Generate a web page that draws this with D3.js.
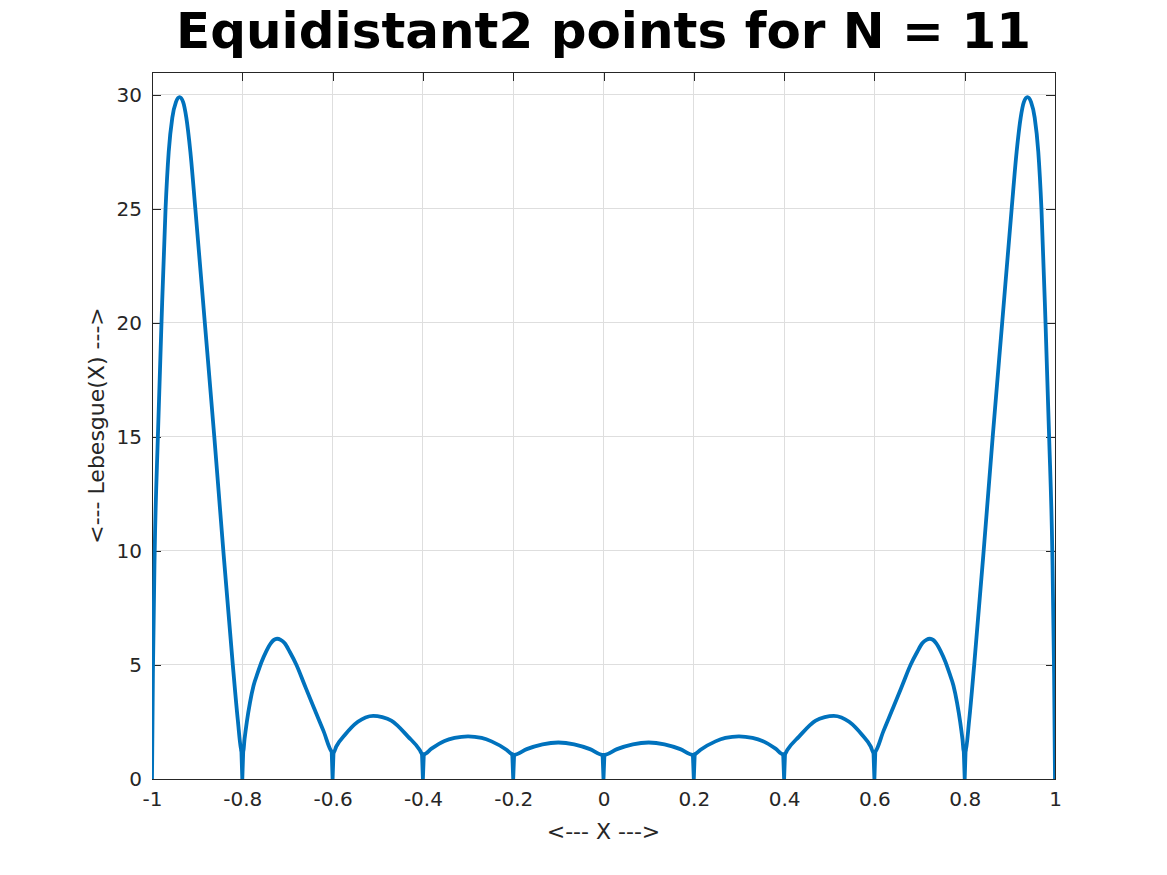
<!DOCTYPE html>
<html>
<head>
<meta charset="utf-8">
<script src="https://cdn.jsdelivr.net/npm/d3@7"></script>
<style>
  html, body { margin: 0; padding: 0; background: #ffffff; }
  svg { display: block; }
  text { font-family: "DejaVu Sans", sans-serif; fill: #262626; }
</style>
</head>
<body>
<svg id="chart" width="1167" height="875"></svg>
<script>
// ---- data ----
const xTicks = [-1, -0.8, -0.6, -0.4, -0.2, 0, 0.2, 0.4, 0.6, 0.8, 1];
const xTickLabels = ["-1", "-0.8", "-0.6", "-0.4", "-0.2", "0", "0.2", "0.4", "0.6", "0.8", "1"];
const yTicks = [0, 5, 10, 15, 20, 25, 30];
const yTickLabels = ["0", "5", "10", "15", "20", "25", "30"];

const xs = [
  -1.000, -0.998, -0.994, -0.987, -0.979, -0.970, -0.963, -0.955, -0.947, -0.939, -0.931, -0.924, -0.915, -0.904,
  -0.883, -0.862, -0.842, -0.821, -0.810, -0.802, -0.800,
  -0.798, -0.795, -0.790, -0.783, -0.775, -0.766, -0.757, -0.747, -0.737, -0.730, -0.723, -0.715, -0.706, -0.695,
  -0.680, -0.662, -0.641, -0.620, -0.602, -0.600,
  -0.598, -0.592, -0.573, -0.544, -0.527, -0.510, -0.490, -0.470, -0.433, -0.407, -0.402, -0.400,
  -0.398, -0.381, -0.352, -0.330, -0.300, -0.270, -0.248, -0.215, -0.202, -0.200,
  -0.198, -0.170, -0.135, -0.100, -0.065, -0.030, -0.002, 0.000,
  0.002, 0.030, 0.065, 0.100, 0.135, 0.170, 0.198, 0.200,
  0.202, 0.215, 0.248, 0.270, 0.300, 0.330, 0.352, 0.381, 0.398, 0.400,
  0.402, 0.407, 0.433, 0.470, 0.490, 0.510, 0.527, 0.544, 0.573, 0.592, 0.598, 0.600,
  0.602, 0.620, 0.641, 0.662, 0.680, 0.695, 0.706, 0.715, 0.723, 0.730, 0.737, 0.747, 0.757, 0.766,
  0.775, 0.783, 0.790, 0.795, 0.798, 0.800,
  0.802, 0.810, 0.821, 0.842, 0.862, 0.883, 0.904, 0.915, 0.924, 0.931, 0.939, 0.947, 0.955, 0.963,
  0.970, 0.979, 0.987, 0.994, 0.998, 1.000
];
const lebesgue = [
  0.00, 4.60, 10.0, 15.0, 20.0, 25.0, 27.5, 29.0, 29.68, 29.9, 29.68, 29.0, 27.5, 25.0,
  20.0, 15.0, 10.0, 5.00, 2.60, 1.25, 0.00,
  1.20, 1.75, 2.50, 3.35, 4.10, 4.65, 5.15, 5.60, 5.95, 6.10, 6.15, 6.10, 5.95, 5.58,
  5.00, 4.12, 3.10, 2.10, 1.20, 0.00,
  1.15, 1.42, 1.93, 2.51, 2.70, 2.77, 2.71, 2.56, 1.86, 1.27, 1.10, 0.00,
  1.08, 1.33, 1.67, 1.80, 1.87, 1.80, 1.65, 1.28, 1.08, 0.00,
  1.06, 1.31, 1.52, 1.60, 1.52, 1.31, 1.06, 0.00,
  1.06, 1.31, 1.52, 1.60, 1.52, 1.31, 1.06, 0.00,
  1.08, 1.28, 1.65, 1.80, 1.87, 1.80, 1.67, 1.33, 1.08, 0.00,
  1.10, 1.27, 1.86, 2.56, 2.71, 2.77, 2.70, 2.51, 1.93, 1.42, 1.15, 0.00,
  1.20, 2.10, 3.10, 4.12, 5.00, 5.58, 5.95, 6.10, 6.15, 6.10, 5.95, 5.60, 5.15, 4.65,
  4.10, 3.35, 2.50, 1.75, 1.20, 0.00,
  1.25, 2.60, 5.00, 10.0, 15.0, 20.0, 25.0, 27.5, 29.0, 29.68, 29.9, 29.68, 29.0, 27.5,
  25.0, 20.0, 15.0, 10.0, 4.60, 0.00
];

const titleText = "Equidistant2 points for N = 11";
const xLabelText = "<--- X --->";
const yLabelText = "<--- Lebesgue(X) --->";

// ---- layout ----
const plotL = 152, plotR = 1055, plotT = 72, plotB = 779;
const svg = d3.select("#chart");
svg.append("rect").attr("width", 1167).attr("height", 875).attr("fill", "#ffffff");

const x = d3.scaleLinear().domain([-1, 1]).range([plotL, plotR]);
const y = d3.scaleLinear().domain([0, 31]).range([plotB, plotT]);

// grid
const grid = svg.append("g").attr("stroke", "#dedede").attr("stroke-width", 1).attr("shape-rendering", "crispEdges");
grid.selectAll(".gx").data(xTicks).join("line")
  .attr("x1", d => x(d)).attr("x2", d => x(d)).attr("y1", plotT).attr("y2", plotB);
grid.selectAll(".gy").data(yTicks).join("line")
  .attr("x1", plotL).attr("x2", plotR).attr("y1", d => y(d)).attr("y2", d => y(d));

// axes
const tickLen = 9;
const axB = d3.axisBottom(x).tickValues(xTicks).tickFormat((d, i) => xTickLabels[i]).tickSizeInner(-tickLen).tickSizeOuter(0).tickPadding(13);
const axT = d3.axisTop(x).tickValues(xTicks).tickFormat("").tickSizeInner(-tickLen).tickSizeOuter(0);
const axL = d3.axisLeft(y).tickValues(yTicks).tickFormat((d, i) => yTickLabels[i]).tickSizeInner(-tickLen).tickSizeOuter(0).tickPadding(10);
const axR = d3.axisRight(y).tickValues(yTicks).tickFormat("").tickSizeInner(-tickLen).tickSizeOuter(0);

function style(g) {
  g.selectAll("path").attr("stroke", "#262626").attr("stroke-width", 1);
  g.selectAll("line").attr("stroke", "#262626").attr("stroke-width", 1);
  g.selectAll("text").attr("font-size", 20).attr("fill", "#262626").attr("font-family", "DejaVu Sans");
  g.attr("shape-rendering", "crispEdges");
}
svg.append("g").attr("transform", `translate(0,${plotB})`).call(axB).call(style);
svg.append("g").attr("transform", `translate(0,${plotT})`).call(axT).call(style);
svg.append("g").attr("transform", `translate(${plotL},0)`).call(axL).call(style);
svg.append("g").attr("transform", `translate(${plotR},0)`).call(axR).call(style);

// clip
svg.append("clipPath").attr("id", "plotclip").append("rect")
  .attr("x", plotL).attr("y", plotT).attr("width", plotR - plotL).attr("height", plotB - plotT);

// curve: smooth arches, and straight spikes down to zero at the interior nodes
const pts = xs.map((d, i) => [d, lebesgue[i]]);
const n = pts.length;
const isSpike = (i) => i > 0 && i < n - 1 && pts[i][1] === 0;
const archPts = pts.filter((p, i) => !isSpike(i));
const spikeSets = pts.map((p, i) => i).filter(isSpike).map(i => [pts[i - 1], pts[i], pts[i + 1]]);

const smooth = d3.line().x(d => x(d[0])).y(d => y(d[1])).curve(d3.curveMonotoneX);
const straight = d3.line().x(d => x(d[0])).y(d => y(d[1])).curve(d3.curveLinear);
const curveG = svg.append("g").attr("clip-path", "url(#plotclip)")
  .attr("fill", "none").attr("stroke", "#0072BD").attr("stroke-width", 3.8)
  .attr("stroke-linejoin", "round").attr("stroke-linecap", "round");
curveG.append("path").datum(archPts).attr("d", smooth);
curveG.selectAll(".spike").data(spikeSets).join("path").attr("class", "spike").attr("d", straight);

// titles
svg.append("text").attr("x", (plotL + plotR) / 2).attr("y", 48)
  .attr("text-anchor", "middle").attr("font-size", 50).attr("font-weight", "bold")
  .style("fill", "#000000")
  .text(titleText);
svg.append("text").attr("x", (plotL + plotR) / 2).attr("y", 839)
  .attr("text-anchor", "middle").attr("font-size", 22)
  .text(xLabelText);
svg.append("text").attr("transform", `translate(104,${(plotT + plotB) / 2}) rotate(-90)`)
  .attr("text-anchor", "middle").attr("font-size", 22)
  .text(yLabelText);
</script>
</body>
</html>
